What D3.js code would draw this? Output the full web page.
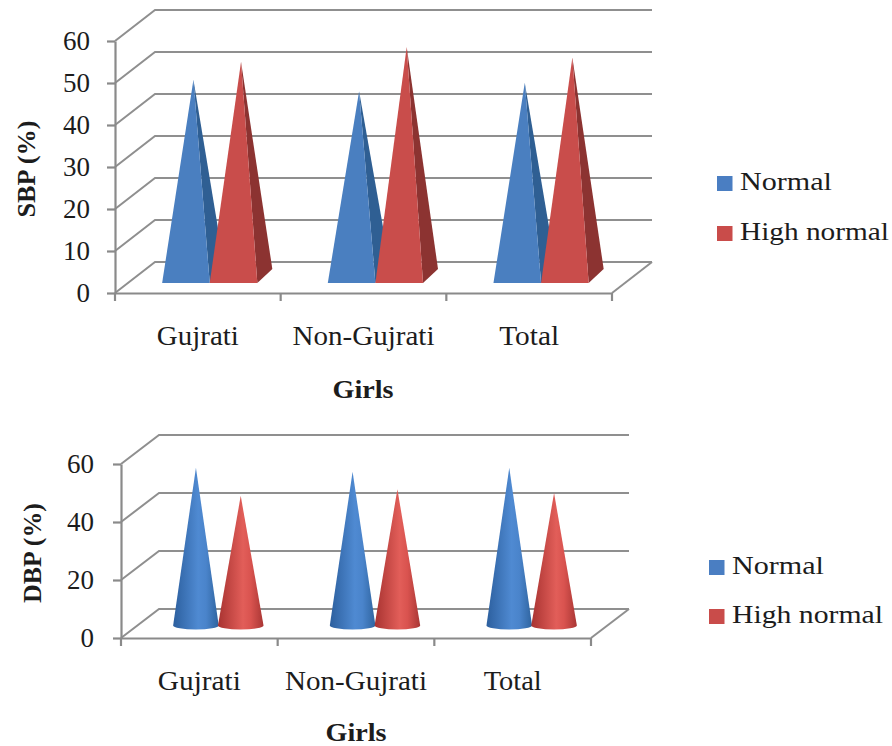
<!DOCTYPE html>
<html>
<head>
<meta charset="utf-8">
<script src="https://cdnjs.cloudflare.com/ajax/libs/d3/7.8.5/d3.min.js"></script>
<style>
html,body{margin:0;padding:0;background:#fff;overflow:hidden}
text{font-family:"Liberation Serif",serif;fill:#1c1c1c}
.grid{stroke:#8f8f8f;stroke-width:2;fill:none}
.axis path,.axis line{stroke:#8a8a8a;stroke-width:2.2}
</style>
</head>
<body>
<svg id="chart" width="892" height="746"></svg>
<script>
const categories = ["Gujrati", "Non-Gujrati", "Total"];
const seriesNames = ["Normal", "High normal"];
const sbpNormal = [46.7, 44, 46];
const sbpHighNormal = [51, 54.5, 52];
const dbpNormal = [54.4, 53, 54.4];
const dbpHighNormal = [44.7, 47, 45.7];
const sbpTicks = [0, 10, 20, 30, 40, 50, 60];
const dbpTicks = [0, 20, 40, 60];

const svg = d3.select("#chart");
const defs = svg.append("defs");

// Horizontal shading that gives the cones their round look
function coneGradient(id, stops) {
  const g = defs.append("linearGradient").attr("id", id);
  stops.forEach(([o, c]) => g.append("stop").attr("offset", o).attr("stop-color", c));
}
coneGradient("coneBlue", [[0, "#2c5f9e"], [0.55, "#4f8ad2"], [0.72, "#4a84cb"], [1, "#2f649f"]]);
coneGradient("coneRed", [[0, "#a83331"], [0.55, "#e25e59"], [0.72, "#d9534f"], [1, "#a93634"]]);

const faceColors = [
  { front: "#4a7fc0", side: "#2f5f93", cone: "url(#coneBlue)", key: "#4a7ec2" },
  { front: "#c94d4b", side: "#8c3331", cone: "url(#coneRed)", key: "#c94c4a" }
];

function drawFrame(g, cfg) {
  const { x, y, ticks, depth } = cfg;
  const [x0, x1] = x.range();

  // Back wall gridlines and their slanted run along the side wall
  g.selectAll("path.grid").data(ticks).join("path")
    .attr("class", "grid")
    .attr("d", t => `M${x0},${y(t)}L${x0 + depth.x},${y(t) - depth.y}L${x1 + depth.x},${y(t) - depth.y}`);
  g.append("path").attr("class", "grid")
    .attr("d", `M${x1},${y(0)}L${x1 + depth.x},${y(0) - depth.y}`);

  g.append("g").attr("class", "axis")
    .attr("transform", `translate(${x0},0)`)
    .call(d3.axisLeft(y).tickValues(ticks).tickSize(8).tickSizeOuter(0).tickPadding(cfg.tickPad))
    .call(a => a.selectAll("text").attr("font-size", cfg.fontSize).attr("fill", "#1c1c1c"));

  // Category labels sit mid-band, tick marks on the band edges
  const band = g.append("g").attr("class", "axis").attr("transform", `translate(0,${y(0)})`);
  band.call(d3.axisBottom(x).tickSize(0).tickPadding(cfg.catPad).tickSizeOuter(0))
    .call(a => a.selectAll("text").attr("font-size", cfg.fontSize).attr("fill", "#1c1c1c")
      .attr("textLength", (d, i) => cfg.catWidths[i]).attr("lengthAdjust", "spacingAndGlyphs"));
  band.selectAll("line.edge").data(d3.range(categories.length + 1)).join("line")
    .attr("class", "edge")
    .attr("x1", i => x0 + i * x.step()).attr("x2", i => x0 + i * x.step())
    .attr("y1", 0).attr("y2", 8);

  g.append("text").attr("font-weight", "bold").attr("font-size", cfg.titleSize)
    .attr("text-anchor", "middle")
    .attr("textLength", cfg.yTitle[2]).attr("lengthAdjust", "spacingAndGlyphs")
    .attr("transform", `translate(${cfg.yTitle[0]},${cfg.yTitle[1]}) rotate(-90)`)
    .text(cfg.yLabel);
  g.append("text").attr("font-weight", "bold").attr("font-size", cfg.titleSize)
    .attr("text-anchor", "middle").attr("x", cfg.xTitle[0]).attr("y", cfg.xTitle[1])
    .attr("textLength", cfg.xTitle[2]).attr("lengthAdjust", "spacingAndGlyphs")
    .text("Girls");

  const legend = g.selectAll("g.key").data(seriesNames).join("g").attr("class", "key")
    .attr("transform", (d, i) => `translate(${cfg.legend[0]},${cfg.legend[1] + i * cfg.legend[2]})`);
  legend.append("rect").attr("width", 15.5).attr("height", 15).attr("fill", (d, i) => faceColors[i].key);
  legend.append("text").attr("x", 23).attr("y", 14).attr("font-size", cfg.legendSize)
    .attr("textLength", (d, i) => cfg.legendWidths[i]).attr("lengthAdjust", "spacingAndGlyphs")
    .text(d => d);
}

function drawPyramids(g, cfg, series) {
  const { x, y, depth } = cfg;
  const halfW = 23.8, dx = 15, dy = 14, lift = 17;
  series.forEach((values, s) => {
    const c = faceColors[s];
    categories.forEach((cat, i) => {
      const cx = x(cat) + x.bandwidth() / 2 + depth.x / 2 - 0.6 + (s === 0 ? -23.8 : 23.8);
      const fy = y(0) - lift + dy / 2;
      const fl = cx - dx / 2 - halfW, fr = cx - dx / 2 + halfW;
      const apex = [cx, y(values[i]) - lift];
      g.append("path").attr("fill", c.side)
        .attr("d", `M${fr},${fy}L${fr + dx},${fy - dy}L${apex}Z`);
      g.append("path").attr("fill", c.front)
        .attr("d", `M${fl},${fy}L${fr},${fy}L${apex}Z`);
    });
  });
}

function drawCones(g, cfg, series) {
  const { x, y, depth } = cfg;
  const rx = 22.8, ry = 4, lift = 12.5;
  series.forEach((values, s) => {
    const c = faceColors[s];
    categories.forEach((cat, i) => {
      const cx = x(cat) + x.bandwidth() / 2 + (s === 0 ? -22.4 : 22.4) + depth.x / 2;
      const by = y(0) - lift;
      const ay = y(values[i]) - lift;
      g.append("path").attr("fill", c.cone)
        .attr("d", `M${cx - rx},${by}A${rx},${ry} 0 0 0 ${cx + rx},${by}L${cx},${ay}Z`);
    });
  });
}

const sbp = {
  x: d3.scaleBand().domain(categories).range([115, 612]),
  y: d3.scaleLinear().domain([0, 60]).range([293, 41]),
  ticks: sbpTicks, depth: { x: 40, y: 31 },
  tickPad: 17, catPad: 33, fontSize: 27, titleSize: 25,
  catWidths: [82, 142, 60],
  yLabel: "SBP (%)", yTitle: [35, 169, 97], xTitle: [363, 398, 61],
  legend: [717, 176, 50], legendSize: 25, legendWidths: [92, 149]
};
const dbp = {
  x: d3.scaleBand().domain(categories).range([121, 591]),
  y: d3.scaleLinear().domain([0, 60]).range([638, 464]),
  ticks: dbpTicks, depth: { x: 38, y: 29 },
  tickPad: 19, catPad: 33, fontSize: 27, titleSize: 25,
  catWidths: [83, 142, 58],
  yLabel: "DBP (%)", yTitle: [41, 553, 100], xTitle: [356, 741, 61],
  legend: [709, 560, 49], legendSize: 25, legendWidths: [92, 151]
};

const sbpPanel = svg.append("g");
drawFrame(sbpPanel, sbp);
drawPyramids(sbpPanel, sbp, [sbpNormal, sbpHighNormal]);

const dbpPanel = svg.append("g");
drawFrame(dbpPanel, dbp);
drawCones(dbpPanel, dbp, [dbpNormal, dbpHighNormal]);
</script>
</body>
</html>
